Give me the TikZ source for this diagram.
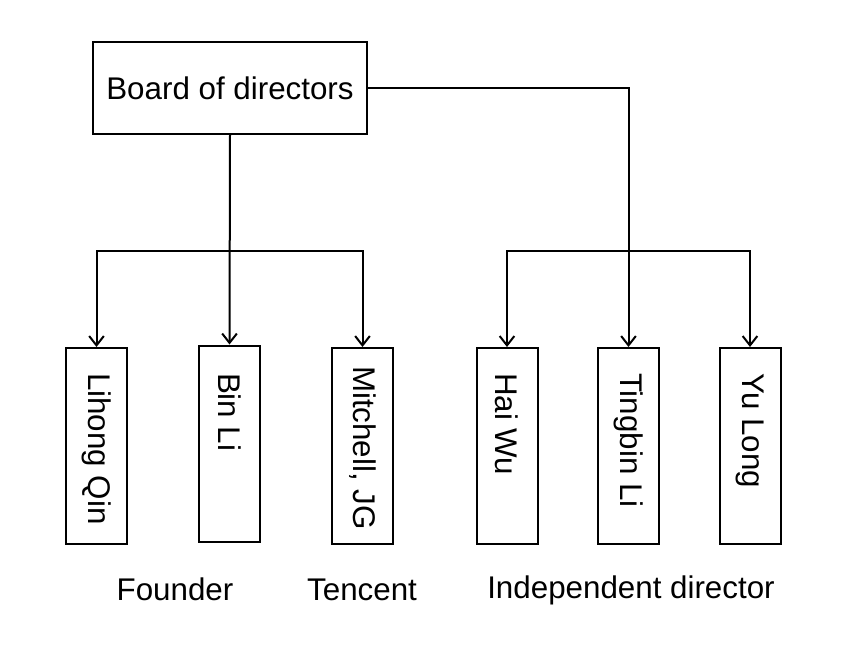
\documentclass[tikz,border=0pt]{standalone}
\usepackage{fontspec}
\setmainfont{Liberation Sans}
\usetikzlibrary{arrows.meta}
\usetikzlibrary{positioning}

\begin{document}
\begin{tikzpicture}[x=0.75pt,y=-0.75pt,
                      line width=1.5pt,
                      every node/.style={font=\fontsize{23.5}{28}\selectfont},
                      board node/.style={draw,minimum width=205pt,minimum height=69pt,inner sep=0pt},
                      member node/.style={draw,minimum width=45.75pt,minimum height=147pt,inner sep=0pt},
                      name node/.style={rotate=-90,anchor=west,inner sep=0pt},
                      link/.style={-{Straight Barb[length=7pt,width=11pt]}}]
  \useasboundingbox (0,0) rectangle (847,661);

        \node[board node] (board) at (230,88) {Board of directors};

        \node[member node] (qin) at (96.5,446) {};
        \node[member node] (li) at (229.5,443.5) {};
        \node[member node] (mitchell) at (362.5,446) {};
        \node[member node] (wu) at (507,446) {};
        \node[member node] (tingbin) at (628.5,446) {};
        \node[member node] (long) at (750,446) {};

        \node[name node] (qintext) at (96.5,372) {Lihong Qin};
        \node[name node] (litext) at (229.5,372) {Bin Li};
        \node[name node] (mitchelltext) at (362.5,365) {Mitchell, JG};
        \node[name node] (wutext) at (507,372) {Hai Wu};
        \node[name node] (tingbintext) at (628.5,372) {Tingbin Li};
        \node[name node] (longtext) at (750,372) {Yu Long};

        \node (founder) at (175,589) {Founder};
        \node (tencent) at (362,590) {Tencent};
        \node (independent) at (631,590) {Independent director};

        % founder and tencent seats
        \coordinate (leftbar) at (230,251);
        \draw[link] (board.south) -- (li.north);
        \draw[link] (leftbar) -| (qin.north);
        \draw[link] (leftbar) -| (mitchell.north);

        % independent seats
        \coordinate (rightbar) at (628.5,251);
        \draw[link] (board.east) -| (tingbin.north);
        \draw[link] (rightbar) -| (wu.north);
        \draw[link] (rightbar) -| (long.north);
\end{tikzpicture}
\end{document}
